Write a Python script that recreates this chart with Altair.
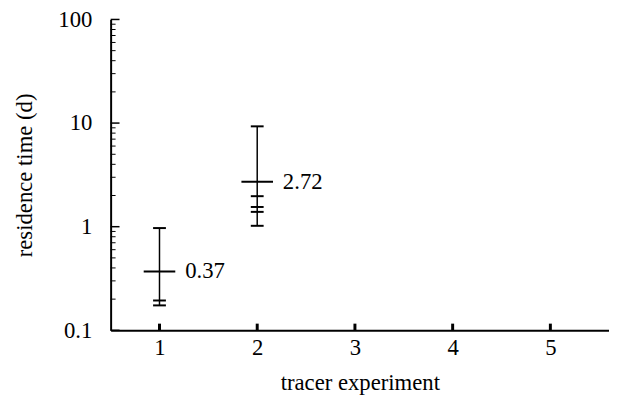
import altair as alt
import pandas as pd

# --- data ---
experiments = [1, 2]
center = [0.37, 2.72]
lower = [0.174, 1.02]
upper = [0.97, 9.3]
labels = ["0.37", "2.72"]
extra_exp = [1, 2, 2, 2]
extra_val = [0.194, 1.97, 1.55, 1.39]
all_experiments = [1, 2, 3, 4, 5]
base_marker_top = [0.116, 0.116, 0.116, 0.116, 0.116]
major_ticks = [0.1, 1, 10, 100]
minor_ticks = [m * d for d in [0.1, 1, 10] for m in [2, 3, 4, 5, 6, 7, 8, 9]]

FONT = "Times New Roman, Liberation Serif, serif"
FS = 23

df = pd.DataFrame({"exp": experiments, "c": center, "lo": lower, "hi": upper, "lab": labels})
df_extra = pd.DataFrame({"exp": extra_exp, "v": extra_val})
df_base = pd.DataFrame({"exp": all_experiments, "lo": [0.1] * 5, "hi": base_marker_top})
df_major = pd.DataFrame({"v": major_ticks})
df_minor = pd.DataFrame({"v": minor_ticks})

xs = alt.Scale(domain=[0.5, 5.6], nice=False, zero=False)
ys = alt.Scale(type="log", domain=[0.1, 100], nice=False)

xax = alt.Axis(values=[1, 2, 3, 4, 5], format="d", tickSize=0, labelPadding=7,
               titlePadding=12, title="tracer experiment")
yax = alt.Axis(values=major_ticks, format="~g", tickSize=0, labelPadding=19,
               titlePadding=22, title="residence time (d)")

base = alt.Chart(df)

vline = base.mark_rule(color="black", strokeWidth=1.5).encode(
    x=alt.X("exp:Q", scale=xs, axis=xax),
    y=alt.Y("lo:Q", scale=ys, axis=yax),
    y2="hi:Q",
)
cap_lo = base.mark_tick(orient="horizontal", size=13, thickness=2, color="black", opacity=1).encode(
    x=alt.X("exp:Q", scale=xs), y=alt.Y("lo:Q", scale=ys))
cap_hi = base.mark_tick(orient="horizontal", size=13, thickness=2, color="black", opacity=1).encode(
    x=alt.X("exp:Q", scale=xs), y=alt.Y("hi:Q", scale=ys))
mid = base.mark_tick(orient="horizontal", size=32, thickness=2, color="black", opacity=1).encode(
    x=alt.X("exp:Q", scale=xs), y=alt.Y("c:Q", scale=ys))
extra = alt.Chart(df_extra).mark_tick(orient="horizontal", size=13, thickness=2, color="black", opacity=1).encode(
    x=alt.X("exp:Q", scale=xs), y=alt.Y("v:Q", scale=ys))
txt = base.mark_text(align="left", baseline="middle", dx=26, font=FONT, fontSize=FS, color="black").encode(
    x=alt.X("exp:Q", scale=xs), y=alt.Y("c:Q", scale=ys), text="lab:N")
markers = alt.Chart(df_base).mark_rule(color="black", strokeWidth=3).encode(
    x=alt.X("exp:Q", scale=xs), y=alt.Y("lo:Q", scale=ys), y2="hi:Q")
maj = alt.Chart(df_major).mark_tick(orient="horizontal", size=9, thickness=1.5, color="black", opacity=1).encode(
    x=alt.value(4.5), y=alt.Y("v:Q", scale=ys))
mnr = alt.Chart(df_minor).mark_tick(orient="horizontal", size=5, thickness=1, color="black", opacity=1).encode(
    x=alt.value(2.5), y=alt.Y("v:Q", scale=ys))

chart = alt.layer(vline, cap_lo, cap_hi, mid, extra, txt, markers, maj, mnr).properties(
    width=505, height=315,
    autosize=alt.AutoSizeParams(type="none"),
    padding={"left": 104, "top": 9, "right": 0, "bottom": 68},
).configure_view(stroke=None).configure_axis(
    domainColor="black", domainWidth=2, grid=False,
    labelFont=FONT, labelFontSize=FS, labelColor="black",
    titleFont=FONT, titleFontSize=FS, titleFontWeight="normal", titleColor="black",
)

chart.save("out.html", embed_options={"renderer": "svg", "actions": False})
